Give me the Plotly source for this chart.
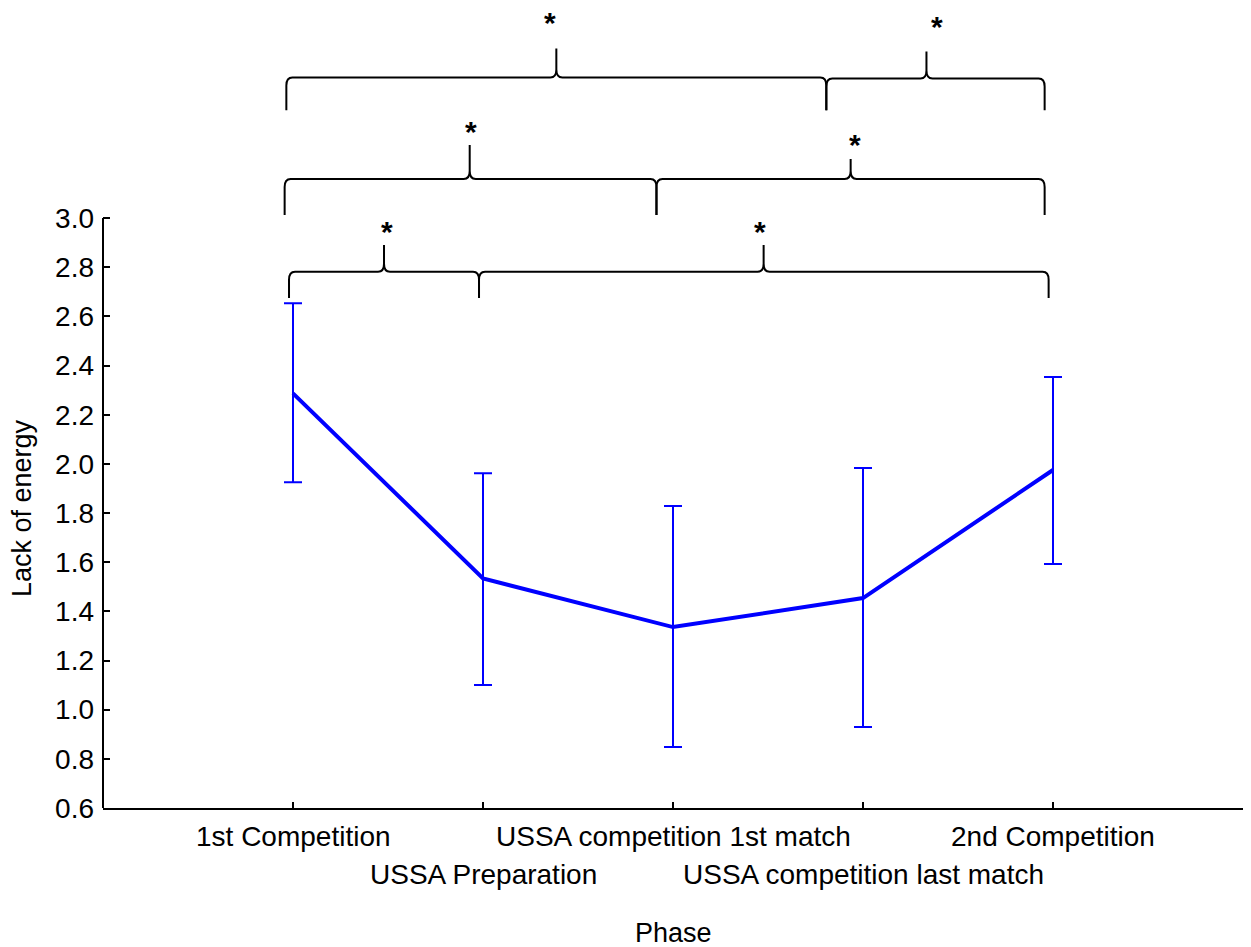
import plotly.graph_objects as go

# ---- data -------------------------------------------------------------
phases = [
    "1st Competition",
    "USSA Preparation",
    "USSA competition 1st match",
    "USSA competition last match",
    "2nd Competition",
]
mean_values = [2.287, 1.534, 1.336, 1.454, 1.975]
upper_values = [2.653, 1.962, 1.829, 1.983, 2.353]
lower_values = [1.925, 1.100, 0.848, 0.930, 1.593]
y_tick_values = [0.6, 0.8, 1.0, 1.2, 1.4, 1.6, 1.8, 2.0, 2.2, 2.4, 2.6, 2.8, 3.0]

# ---- layout geometry --------------------------------------------------
W, H = 1251, 947
M_L, M_R, M_T, M_B = 103, 8, 0, 139
X_RANGE = [-1, 5]
Y_RANGE = [0.6, 3.887]
PX_X = (X_RANGE[1] - X_RANGE[0]) / (W - M_L - M_R)
PX_Y = (Y_RANGE[1] - Y_RANGE[0]) / (H - M_T - M_B)

FONT = "Arial, Liberation Sans, sans-serif"
BLUE = "#0000FF"

# significance braces: start, end, tip x, baseline, foot, tip height
brace_start = [-0.035, 2.807, -0.044, 1.913, -0.021, 0.979]
brace_end = [2.807, 3.956, 1.913, 3.956, 0.979, 3.977]
brace_tip_x = [1.386, 3.334, 0.930, 2.935, 0.479, 2.477]
brace_base = [3.572, 3.568, 3.159, 3.159, 2.782, 2.782]
brace_foot = [3.439, 3.439, 3.012, 3.012, 2.675, 2.675]
brace_tip = [3.690, 3.677, 3.297, 3.240, 2.890, 2.890]
star_x = [1.351, 3.387, 0.935, 2.956, 0.493, 2.456]
star_y = [3.806, 3.792, 3.366, 3.313, 2.959, 2.959]


def brace_path(xa, xb, xm, yb, yf, yt):
    dx = 6 * PX_X
    dy = 8 * PX_Y
    return (
        f"M {xa},{yf} L {xa},{yb - dy} Q {xa},{yb} {xa + dx},{yb} "
        f"L {xm - dx},{yb} Q {xm},{yb} {xm},{yb + dy} L {xm},{yt} "
        f"L {xm},{yb + dy} Q {xm},{yb} {xm + dx},{yb} "
        f"L {xb - dx},{yb} Q {xb},{yb} {xb},{yb - dy} L {xb},{yf}"
    )


x_pos = list(range(len(phases)))
err_plus = [u - m for u, m in zip(upper_values, mean_values)]
err_minus = [m - l for m, l in zip(mean_values, lower_values)]

fig = go.Figure()
fig.add_trace(
    go.Scatter(
        x=x_pos,
        y=mean_values,
        mode="lines",
        line=dict(color=BLUE, width=4),
        error_y=dict(
            type="data",
            symmetric=False,
            array=err_plus,
            arrayminus=err_minus,
            color=BLUE,
            thickness=2,
            width=9,
        ),
        showlegend=False,
        hoverinfo="skip",
    )
)

shapes = [
    # left axis line, stopping at the top tick
    dict(
        type="line", xref="paper", yref="y", x0=0, x1=0,
        y0=y_tick_values[0], y1=y_tick_values[-1],
        line=dict(color="black", width=2),
    )
]
for i in range(len(brace_start)):
    shapes.append(
        dict(
            type="path",
            xref="x",
            yref="y",
            path=brace_path(brace_start[i], brace_end[i], brace_tip_x[i],
                            brace_base[i], brace_foot[i], brace_tip[i]),
            line=dict(color="black", width=2),
        )
    )

annotations = []
for sx, sy in zip(star_x, star_y):
    annotations.append(
        dict(
            x=sx, y=sy, xref="x", yref="y", text="<b>*</b>",
            showarrow=False, font=dict(family=FONT, size=30, color="black"),
            xanchor="center", yanchor="middle", yshift=-3,
        )
    )

# category labels in two staggered rows
for i, name in enumerate(phases):
    row_center = 836 if i % 2 == 0 else 874
    annotations.append(
        dict(
            x=i, y=0, xref="x", yref="paper", text=name, showarrow=False,
            font=dict(family=FONT, size=28, color="black"),
            xanchor="center", yanchor="middle",
            yshift=-(row_center - (H - M_B)),
        )
    )

annotations.append(
    dict(
        x=0.5, y=0, xref="paper", yref="paper", text="Phase", showarrow=False,
        font=dict(family=FONT, size=27, color="black"),
        xanchor="center", yanchor="middle", yshift=-(933 - (H - M_B)),
    )
)
annotations.append(
    dict(
        x=0, y=1.82, xref="paper", yref="y", text="Lack of energy",
        showarrow=False, textangle=-90,
        font=dict(family=FONT, size=27, color="black"),
        xanchor="center", yanchor="middle", xshift=-(M_L - 22),
    )
)

fig.update_layout(
    width=W,
    height=H,
    margin=dict(l=M_L, r=M_R, t=M_T, b=M_B, pad=0),
    paper_bgcolor="white",
    plot_bgcolor="white",
    font=dict(family=FONT, size=28, color="black"),
    shapes=shapes,
    annotations=annotations,
    xaxis=dict(
        range=X_RANGE,
        tickvals=x_pos,
        showticklabels=False,
        ticks="inside",
        ticklen=6,
        tickwidth=2,
        tickcolor="black",
        showline=True,
        linecolor="black",
        linewidth=2,
        showgrid=False,
        zeroline=False,
        fixedrange=True,
    ),
    yaxis=dict(
        range=Y_RANGE,
        tickvals=y_tick_values,
        tickformat=".1f",
        ticks="inside",
        ticklen=7,
        tickwidth=2,
        tickcolor="black",
        tickfont=dict(family=FONT, size=28, color="black"),
        ticklabelstandoff=8,
        showline=False,
        showgrid=False,
        zeroline=False,
        fixedrange=True,
    ),
)

fig.write_html("out.html")
